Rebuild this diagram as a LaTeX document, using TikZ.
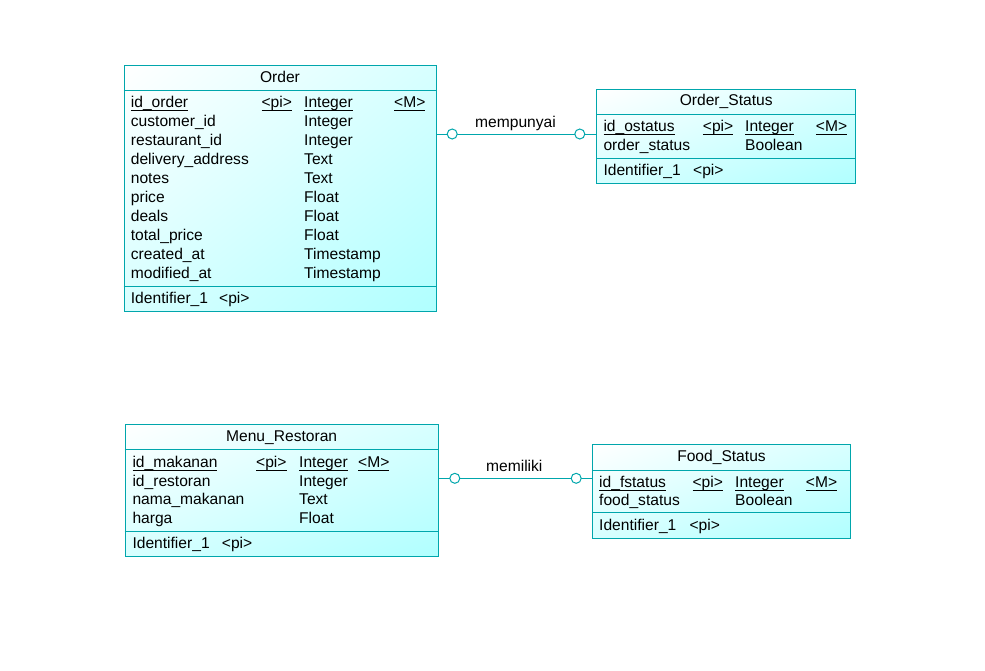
\documentclass[tikz,border=0pt]{standalone}
\usepackage{fontspec}
\setmainfont{Liberation Sans}
\usetikzlibrary{calc,shadings}
\definecolor{edge}{RGB}{0,166,172}
\definecolor{fillhi}{RGB}{255,255,255}
\definecolor{filllo}{RGB}{176,255,255}
\definecolor{fillmid}{RGB}{215,255,255}
\definecolor{ink}{RGB}{0,0,0}
% underlined key text: rule sits at the level of the underscore
\newcommand\keyul[1]{\setbox0=\hbox{#1}\rlap{\vrule width\wd0 height -2.3pt depth 3.4pt}\box0}
\tikzset{
  ent/.style={rectangle, draw=edge, line width=1pt, inner sep=0pt, shade,
    upper left=fillhi, lower right=filllo, upper right=fillmid, lower left=fillmid},
  sep/.style={draw=edge, line width=1pt},
  txt/.style={anchor=base west, inner sep=0pt, text=ink, font=\fontsize{15.6}{18}\selectfont},
  ttl/.style={txt, anchor=base},
  rel/.style={draw=edge, line width=1pt},
  ring/.style={circle, draw=edge, fill=white, line width=1pt, minimum size=10pt, inner sep=0pt},
}
\begin{document}
\begin{tikzpicture}[x=1pt,y=-1pt]
\useasboundingbox (0,0) rectangle (985,670);

% ---------------- Order ----------------
\node[ent, minimum width=312pt, minimum height=245.7pt] (order) at (280,188.15) {};
\draw[sep] (order.west |- 0,90) -- (order.east |- 0,90);
\draw[sep] (order.west |- 0,286) -- (order.east |- 0,286);
\node[ttl] (orderT) at (280,82.7) {Order};
\node[txt] (o1n) at (130.7,107.7) {\keyul{id\_order}};
\node[txt] (o1p) at (261.3,107.7) {\keyul{<pi>}};
\node[txt] (o1t) at (304,107.7) {\keyul{Integer}};
\node[txt] (o1m) at (394,107.7) {\keyul{<M>}};
\node[txt] (o2n) at (130.7,126.7) {customer\_id};
\node[txt] (o2t) at (304,126.7) {Integer};
\node[txt] (o3n) at (130.7,145.7) {restaurant\_id};
\node[txt] (o3t) at (304,145.7) {Integer};
\node[txt] (o4n) at (130.7,164.7) {delivery\_address};
\node[txt] (o4t) at (304,164.7) {Text};
\node[txt] (o5n) at (130.7,183.7) {notes};
\node[txt] (o5t) at (304,183.7) {Text};
\node[txt] (o6n) at (130.7,202.7) {price};
\node[txt] (o6t) at (304,202.7) {Float};
\node[txt] (o7n) at (130.7,221.7) {deals};
\node[txt] (o7t) at (304,221.7) {Float};
\node[txt] (o8n) at (130.7,240.7) {total\_price};
\node[txt] (o8t) at (304,240.7) {Float};
\node[txt] (o9n) at (130.7,259.7) {created\_at};
\node[txt] (o9t) at (304,259.7) {Timestamp};
\node[txt] (o10n) at (130.7,278.7) {modified\_at};
\node[txt] (o10t) at (304,278.7) {Timestamp};
\node[txt] (oid) at (130.7,303.5) {Identifier\_1};
\node[txt] (oidp) at (219,303.5) {<pi>};

% ---------------- Order_Status ----------------
\node[ent, minimum width=259pt, minimum height=93.6pt] (ostat) at (726.2,136.5) {};
\draw[sep] (ostat.west |- 0,114) -- (ostat.east |- 0,114);
\draw[sep] (ostat.west |- 0,158.3) -- (ostat.east |- 0,158.3);
\node[ttl] (ostatT) at (726.2,105.7) {Order\_Status};
\node[txt] (s1n) at (603.3,131.7) {\keyul{id\_ostatus}};
\node[txt] (s1p) at (702.7,131.7) {\keyul{<pi>}};
\node[txt] (s1t) at (745,131.7) {\keyul{Integer}};
\node[txt] (s1m) at (815.7,131.7) {\keyul{<M>}};
\node[txt] (s2n) at (603.3,150.3) {order\_status};
\node[txt] (s2t) at (745,150.3) {Boolean};
\node[txt] (sid) at (603.3,175.7) {Identifier\_1};
\node[txt] (sidp) at (693,175.7) {<pi>};

% ---------------- Menu_Restoran ----------------
\node[ent, minimum width=313.3pt, minimum height=131.7pt] (menu) at (281.65,490.15) {};
\draw[sep] (menu.west |- 0,449.3) -- (menu.east |- 0,449.3);
\draw[sep] (menu.west |- 0,531) -- (menu.east |- 0,531);
\node[ttl] (menuT) at (281.65,441.3) {Menu\_Restoran};
\node[txt] (m1n) at (132.3,467.3) {\keyul{id\_makanan}};
\node[txt] (m1p) at (256,467.3) {\keyul{<pi>}};
\node[txt] (m1t) at (299,467.3) {\keyul{Integer}};
\node[txt] (m1m) at (358,467.3) {\keyul{<M>}};
\node[txt] (m2n) at (132.3,486) {id\_restoran};
\node[txt] (m2t) at (299,486) {Integer};
\node[txt] (m3n) at (132.3,504.7) {nama\_makanan};
\node[txt] (m3t) at (299,504.7) {Text};
\node[txt] (m4n) at (132.3,523.3) {harga};
\node[txt] (m4t) at (299,523.3) {Float};
\node[txt] (mid) at (132.3,548.3) {Identifier\_1};
\node[txt] (midp) at (221.7,548.3) {<pi>};

% ---------------- Food_Status ----------------
\node[ent, minimum width=258.4pt, minimum height=93.6pt] (food) at (721.5,491.5) {};
\draw[sep] (food.west |- 0,470) -- (food.east |- 0,470);
\draw[sep] (food.west |- 0,512.7) -- (food.east |- 0,512.7);
\node[ttl] (foodT) at (721.5,461.3) {Food\_Status};
\node[txt] (f1n) at (599,487.3) {\keyul{id\_fstatus}};
\node[txt] (f1p) at (692.3,487.3) {\keyul{<pi>}};
\node[txt] (f1t) at (735,487.3) {\keyul{Integer}};
\node[txt] (f1m) at (805.7,487.3) {\keyul{<M>}};
\node[txt] (f2n) at (599,505.7) {food\_status};
\node[txt] (f2t) at (735,505.7) {Boolean};
\node[txt] (fid) at (599,530.7) {Identifier\_1};
\node[txt] (fidp) at (689.3,530.7) {<pi>};

% ---------------- relationships ----------------
\coordinate (r1) at (515.5,134);
\draw[rel] (order.east |- r1) -- (ostat.west |- r1);
\node[ring] (r1a) at ($(order.east |- r1)+(15.7,0)$) {};
\node[ring] (r1b) at ($(ostat.west |- r1)+(-16.4,0)$) {};
\node[ttl] (r1l) at (515.5,127.7) {mempunyai};

\coordinate (r2) at (514.3,478.3);
\draw[rel] (menu.east |- r2) -- (food.west |- r2);
\node[ring] (r2a) at ($(menu.east |- r2)+(16,0)$) {};
\node[ring] (r2b) at ($(food.west |- r2)+(-15.6,0)$) {};
\node[ttl] (r2l) at (514.3,471.7) {memiliki};
\end{tikzpicture}
\end{document}
